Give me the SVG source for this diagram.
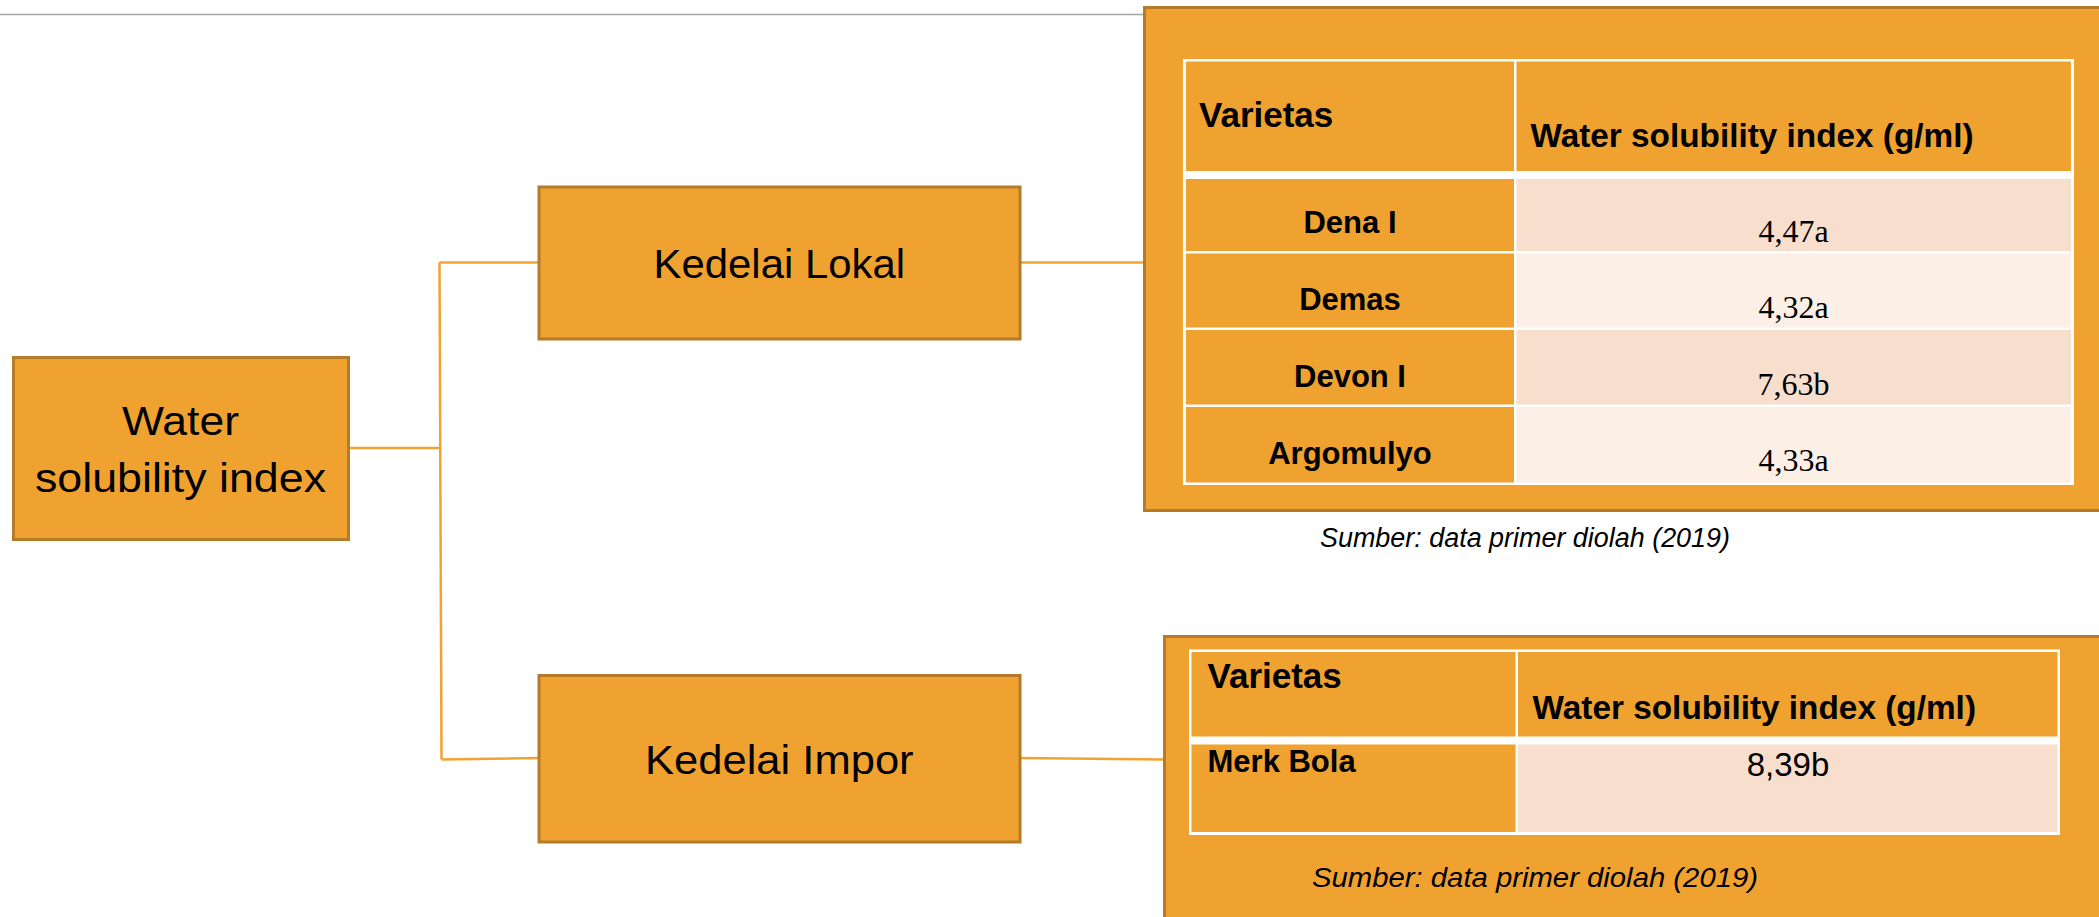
<svg xmlns="http://www.w3.org/2000/svg" width="2099" height="917" viewBox="0 0 2099 917">
<style>
.box{fill:#EFA22F;stroke:#B57A2A;stroke-width:3}
.panel{fill:#EFA22F;stroke:#B57A2A;stroke-width:3}
.conn{fill:none;stroke:#F0A332;stroke-width:2.5}
.hdr{fill:#EFA22F}
.c1{fill:#EFA22F}
.pk{fill:#F8DECC}
.lt{fill:#FCEFE6}
.node{font-family:"Liberation Sans",Arial,sans-serif;font-size:41px;fill:#000;text-anchor:middle}
.bold{font-family:"Liberation Sans",Arial,sans-serif;font-weight:bold;fill:#000}
.val{font-family:"Liberation Serif","Times New Roman",serif;font-size:32px;fill:#000;text-anchor:middle}
.cap{font-family:"Liberation Sans",Arial,sans-serif;font-style:italic;fill:#000}
</style>
<rect x="0" y="0" width="2099" height="917" fill="#FFFFFF"/>
<line x1="0" y1="14.5" x2="1144" y2="14.5" stroke="#A6A6A6" stroke-width="1.5"/>
<g id="connectors">
<line class="conn" x1="348.5" y1="448" x2="440" y2="448"/>
<line class="conn" x1="439.5" y1="262.5" x2="441.5" y2="759.5"/>
<line class="conn" x1="439.5" y1="262.5" x2="539" y2="262.5"/>
<line class="conn" x1="441.5" y1="759.5" x2="539" y2="758"/>
<line class="conn" x1="1020" y1="262.5" x2="1144" y2="262.5"/>
<line class="conn" x1="1020" y1="758" x2="1164" y2="759.5"/>
</g>
<g id="node-water">
<rect class="box" x="13.5" y="357.5" width="335" height="182"/>
<text class="node" x="180.5" y="435" textLength="117" lengthAdjust="spacingAndGlyphs">Water</text>
<text class="node" x="180.5" y="492" textLength="291" lengthAdjust="spacingAndGlyphs">solubility index</text>
</g>
<g id="node-lokal">
<rect class="box" x="539" y="187" width="481" height="152"/>
<text class="node" x="779.3" y="278" textLength="251.5" lengthAdjust="spacingAndGlyphs">Kedelai Lokal</text>
</g>
<g id="node-impor">
<rect class="box" x="539" y="675.5" width="481" height="166.5"/>
<text class="node" x="779.3" y="774" textLength="268.6" lengthAdjust="spacingAndGlyphs">Kedelai Impor</text>
</g>
<g id="table-lokal">
<rect class="panel" x="1144.5" y="7.5" width="970" height="503"/>
<rect x="1183" y="59" width="891" height="426" fill="#FFFFFF"/>
<rect class="hdr" x="1186" y="61.5" width="328" height="109.5"/>
<rect class="hdr" x="1516.5" y="61.5" width="554.5" height="109.5"/>
<rect class="c1" x="1186" y="179" width="328" height="72"/>
<rect class="pk" x="1516.5" y="179" width="554.5" height="72"/>
<rect class="c1" x="1186" y="253.5" width="328" height="74"/>
<rect class="lt" x="1516.5" y="253.5" width="554.5" height="74"/>
<rect class="c1" x="1186" y="330" width="328" height="74.5"/>
<rect class="pk" x="1516.5" y="330" width="554.5" height="74.5"/>
<rect class="c1" x="1186" y="407" width="328" height="75.5"/>
<rect class="lt" x="1516.5" y="407" width="554.5" height="75.5"/>
<text class="bold" x="1199" y="127" font-size="35">Varietas</text>
<text class="bold" x="1530.5" y="146.5" font-size="33" textLength="443" lengthAdjust="spacingAndGlyphs">Water solubility index (g/ml)</text>
<text class="bold" x="1350" y="233" font-size="31" text-anchor="middle">Dena I</text>
<text class="bold" x="1350" y="309.5" font-size="31" text-anchor="middle">Demas</text>
<text class="bold" x="1350" y="387" font-size="31" text-anchor="middle">Devon I</text>
<text class="bold" x="1350" y="463.5" font-size="31" text-anchor="middle">Argomulyo</text>
<text class="val" x="1793.5" y="242">4,47a</text>
<text class="val" x="1793.5" y="318">4,32a</text>
<text class="val" x="1793.5" y="394.6">7,63b</text>
<text class="val" x="1793.5" y="471.4">4,33a</text>
</g>
<text class="cap" x="1320" y="546.5" font-size="27" textLength="410" lengthAdjust="spacingAndGlyphs">Sumber: data primer diolah (2019)</text>
<g id="table-impor">
<rect class="panel" x="1164.5" y="636.5" width="950" height="300"/>
<rect x="1189" y="649.5" width="871" height="185.5" fill="#FFFFFF"/>
<rect class="hdr" x="1191.5" y="652" width="324" height="84.5"/>
<rect class="hdr" x="1518" y="652" width="539.5" height="84.5"/>
<rect class="c1" x="1191.5" y="744.5" width="324" height="87.5"/>
<rect class="pk" x="1518" y="744.5" width="539.5" height="87.5"/>
<text class="bold" x="1207.5" y="688" font-size="35">Varietas</text>
<text class="bold" x="1532.5" y="718.5" font-size="33" textLength="443.5" lengthAdjust="spacingAndGlyphs">Water solubility index (g/ml)</text>
<text class="bold" x="1207.5" y="772" font-size="31">Merk Bola</text>
<text x="1788" y="776" font-family="'Liberation Sans',Arial,sans-serif" font-size="33" text-anchor="middle" fill="#000">8,39b</text>
<text class="cap" x="1312" y="887" font-size="28" textLength="446" lengthAdjust="spacingAndGlyphs">Sumber: data primer diolah (2019)</text>
</g>
</svg>
